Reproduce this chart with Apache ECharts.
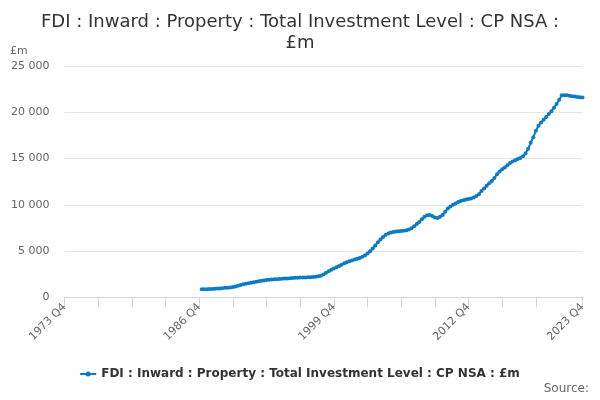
<!DOCTYPE html>
<html>
<head>
<meta charset="utf-8">
<script src="https://cdn.jsdelivr.net/npm/echarts@6/dist/echarts.min.js"></script>
<style>
  html, body { margin: 0; padding: 0; background: #fff; }
  #chart { width: 600px; height: 400px; }
</style>
</head>
<body>
<div id="chart"></div>
<script>
const seriesName = 'FDI : Inward : Property : Total Investment Level : CP NSA : £m'

// quarters 1973 Q4 .. 2023 Q4
const quarters = []
for (let y = 1973, q = 4; y < 2023 || (y === 2023 && q <= 4);) {
    quarters.push(y + ' Q' + q)
    q++
    if (q > 4) { q = 1; y++ }
}

// values from 1987 Q1 onwards (earlier quarters have no data)
const firstQuarter = '1987 Q1'
const values = [
    860, 870, 880, 890, 900, 920, 940, 960, 990, 1020,
    1040, 1070, 1120, 1180, 1250, 1330, 1400, 1460, 1510, 1570,
    1630, 1690, 1740, 1780, 1820, 1860, 1900, 1920, 1940, 1960,
    1980, 2000, 2020, 2040, 2060, 2080, 2100, 2120, 2130, 2140,
    2150, 2160, 2180, 2200, 2230, 2270, 2330, 2470, 2640, 2820,
    2980, 3120, 3250, 3390, 3530, 3670, 3800, 3900, 3990, 4080,
    4170, 4260, 4380, 4520, 4730, 4980, 5280, 5600, 5940, 6250,
    6530, 6750, 6900, 7000, 7060, 7100, 7130, 7160, 7190, 7240,
    7330, 7470, 7680, 7930, 8150, 8430, 8700, 8860, 8900, 8800,
    8620, 8560, 8700, 8900, 9250, 9600, 9820, 10000, 10150, 10300,
    10420, 10500, 10570, 10630, 10690, 10800, 10950, 11150, 11480, 11770,
    12050, 12320, 12560, 12900, 13300, 13600, 13850, 14040, 14280, 14520,
    14680, 14820, 14950, 15050, 15250, 15550, 16050, 16700, 17300, 18000,
    18550, 18900, 19200, 19500, 19800, 20100, 20500, 20900, 21350, 21830,
    21850, 21830, 21780, 21730, 21690, 21660, 21630, 21600
]

const yTicks = [0, 5000, 10000, 15000, 20000, 25000]

const startIdx = quarters.indexOf(firstQuarter)
const seriesData = quarters.map((q, i) => (i >= startIdx ? values[i - startIdx] : null))
const lastIdx = quarters.length - 1

const myChart = echarts.init(document.getElementById('chart'))

myChart.setOption({
    animation: false,
    textStyle: { fontFamily: 'DejaVu Sans' },
    title: {
        text: 'FDI : Inward : Property : Total Investment Level : CP NSA :\n£m',
        left: 'center',
        top: 7,
        textStyle: {
            fontSize: 18,
            fontWeight: 'normal',
            color: '#333333',
            lineHeight: 21
        }
    },
    graphic: [
        {
            type: 'text',
            left: 10,
            top: 46,
            style: { text: '£m', fontSize: 11, fill: '#666666', fontFamily: 'DejaVu Sans' }
        },
        {
            type: 'text',
            right: 11,
            top: 383,
            style: { text: 'Source:', fontSize: 12, fill: '#666666', fontFamily: 'DejaVu Sans' }
        }
    ],
    legend: {
        bottom: 15,
        left: 'center',
        itemWidth: 16,
        itemHeight: 8,
        itemGap: 5,
        textStyle: { fontSize: 12, fontWeight: 'bold', color: '#333333' },
        data: [{
            name: seriesName,
            icon: 'path://M0,3 L16,3 L16,5 L0,5 Z M5.5,4 a2.5,2.5 0 1,1 5,0 a2.5,2.5 0 1,1 -5,0 Z',
            itemStyle: { color: '#0a7bc4' }
        }]
    },
    grid: {
        top: 66,
        left: 64.5,
        right: 17.5,
        bottom: 102.7,
        containLabel: false
    },
    xAxis: {
        type: 'category',
        boundaryGap: false,
        data: quarters,
        axisLine: { show: true, lineStyle: { color: '#ccd6eb' } },
        axisTick: {
            show: true,
            length: 10,
            lineStyle: { color: '#ccd6eb' },
            interval: function (index) {
                return (index % 13 === 0 && index <= 182) || index === lastIdx
            }
        },
        axisLabel: {
            rotate: 45,
            fontSize: 11,
            color: '#666666',
            margin: 8,
            interval: function (index) {
                return index % 52 === 0 || index === lastIdx
            }
        },
        splitLine: { show: false }
    },
    yAxis: {
        type: 'value',
        min: yTicks[0],
        max: yTicks[yTicks.length - 1],
        interval: 5000,
        axisLine: { show: false },
        axisTick: { show: false },
        axisLabel: {
            fontSize: 11,
            color: '#666666',
            margin: 15,
            formatter: function (v) {
                return String(v).replace(/\B(?=(\d{3})+(?!\d))/g, ' ')
            }
        },
        splitLine: { show: true, lineStyle: { color: '#e6e6e6' } }
    },
    series: [
        {
            name: seriesName,
            type: 'line',
            data: seriesData,
            connectNulls: false,
            symbol: 'circle',
            symbolSize: 4,
            showSymbol: true,
            showAllSymbol: true,
            itemStyle: { color: '#0a7bc4' },
            lineStyle: { width: 2, color: '#0a7bc4' }
        }
    ]
})
</script>
</body>
</html>
